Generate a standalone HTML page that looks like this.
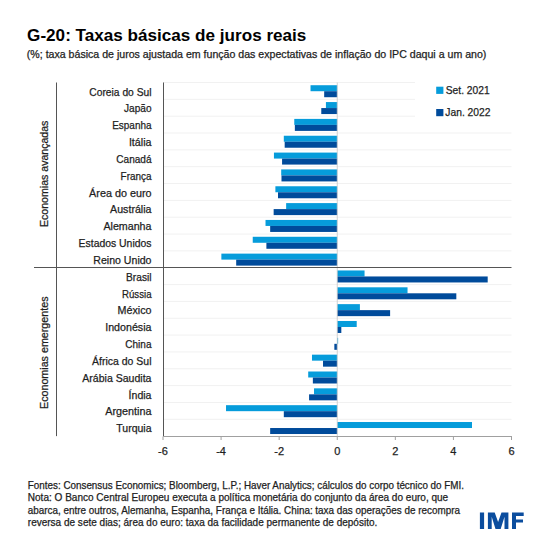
<!DOCTYPE html>
<html><head><meta charset="utf-8"><style>
html,body{margin:0;padding:0;width:550px;height:550px;overflow:hidden;background:#fff}
</style></head><body>
<svg width="550" height="550" viewBox="0 0 550 550" style="position:absolute;left:0;top:0">
<rect width="550" height="550" fill="#fff"/>
<line x1="163.0" y1="99.34" x2="511.5" y2="99.34" stroke="#f1f1f1" stroke-width="1"/>
<line x1="163.0" y1="116.18" x2="511.5" y2="116.18" stroke="#f1f1f1" stroke-width="1"/>
<line x1="163.0" y1="133.02" x2="511.5" y2="133.02" stroke="#f1f1f1" stroke-width="1"/>
<line x1="163.0" y1="149.86" x2="511.5" y2="149.86" stroke="#f1f1f1" stroke-width="1"/>
<line x1="163.0" y1="166.70" x2="511.5" y2="166.70" stroke="#f1f1f1" stroke-width="1"/>
<line x1="163.0" y1="183.54" x2="511.5" y2="183.54" stroke="#f1f1f1" stroke-width="1"/>
<line x1="163.0" y1="200.38" x2="511.5" y2="200.38" stroke="#f1f1f1" stroke-width="1"/>
<line x1="163.0" y1="217.22" x2="511.5" y2="217.22" stroke="#f1f1f1" stroke-width="1"/>
<line x1="163.0" y1="234.06" x2="511.5" y2="234.06" stroke="#f1f1f1" stroke-width="1"/>
<line x1="163.0" y1="250.90" x2="511.5" y2="250.90" stroke="#f1f1f1" stroke-width="1"/>
<line x1="163.0" y1="284.58" x2="511.5" y2="284.58" stroke="#f1f1f1" stroke-width="1"/>
<line x1="163.0" y1="301.42" x2="511.5" y2="301.42" stroke="#f1f1f1" stroke-width="1"/>
<line x1="163.0" y1="318.26" x2="511.5" y2="318.26" stroke="#f1f1f1" stroke-width="1"/>
<line x1="163.0" y1="335.10" x2="511.5" y2="335.10" stroke="#f1f1f1" stroke-width="1"/>
<line x1="163.0" y1="351.94" x2="511.5" y2="351.94" stroke="#f1f1f1" stroke-width="1"/>
<line x1="163.0" y1="368.78" x2="511.5" y2="368.78" stroke="#f1f1f1" stroke-width="1"/>
<line x1="163.0" y1="385.62" x2="511.5" y2="385.62" stroke="#f1f1f1" stroke-width="1"/>
<line x1="163.0" y1="402.46" x2="511.5" y2="402.46" stroke="#f1f1f1" stroke-width="1"/>
<line x1="163.0" y1="419.30" x2="511.5" y2="419.30" stroke="#f1f1f1" stroke-width="1"/>
<line x1="163.0" y1="82.50" x2="511.5" y2="82.50" stroke="#f1f1f1" stroke-width="1"/>
<rect x="310.53" y="85.22" width="26.72" height="6.0" fill="#069cdb"/>
<rect x="324.18" y="91.22" width="13.07" height="6.0" fill="#004b9b"/>
<rect x="325.92" y="102.06" width="11.33" height="6.0" fill="#069cdb"/>
<rect x="321.28" y="108.06" width="15.97" height="6.0" fill="#004b9b"/>
<rect x="294.27" y="118.90" width="42.98" height="6.0" fill="#069cdb"/>
<rect x="294.85" y="124.90" width="42.40" height="6.0" fill="#004b9b"/>
<rect x="283.81" y="135.74" width="53.44" height="6.0" fill="#069cdb"/>
<rect x="284.68" y="141.74" width="52.57" height="6.0" fill="#004b9b"/>
<rect x="273.94" y="152.58" width="63.31" height="6.0" fill="#069cdb"/>
<rect x="282.07" y="158.58" width="55.18" height="6.0" fill="#004b9b"/>
<rect x="281.20" y="169.42" width="56.05" height="6.0" fill="#069cdb"/>
<rect x="281.49" y="175.42" width="55.76" height="6.0" fill="#004b9b"/>
<rect x="275.39" y="186.26" width="61.86" height="6.0" fill="#069cdb"/>
<rect x="278.00" y="192.26" width="59.25" height="6.0" fill="#004b9b"/>
<rect x="286.14" y="203.10" width="51.11" height="6.0" fill="#069cdb"/>
<rect x="273.65" y="209.10" width="63.60" height="6.0" fill="#004b9b"/>
<rect x="265.52" y="219.94" width="71.73" height="6.0" fill="#069cdb"/>
<rect x="270.16" y="225.94" width="67.09" height="6.0" fill="#004b9b"/>
<rect x="252.74" y="236.78" width="84.51" height="6.0" fill="#069cdb"/>
<rect x="266.39" y="242.78" width="70.86" height="6.0" fill="#004b9b"/>
<rect x="221.37" y="253.62" width="115.88" height="6.0" fill="#069cdb"/>
<rect x="236.19" y="259.62" width="101.06" height="6.0" fill="#004b9b"/>
<rect x="337.25" y="270.46" width="27.30" height="6.0" fill="#069cdb"/>
<rect x="337.25" y="276.46" width="150.44" height="6.0" fill="#004b9b"/>
<rect x="337.25" y="287.30" width="70.28" height="6.0" fill="#069cdb"/>
<rect x="337.25" y="293.30" width="119.07" height="6.0" fill="#004b9b"/>
<rect x="337.25" y="304.14" width="22.65" height="6.0" fill="#069cdb"/>
<rect x="337.25" y="310.14" width="52.86" height="6.0" fill="#004b9b"/>
<rect x="337.25" y="320.98" width="19.46" height="6.0" fill="#069cdb"/>
<rect x="337.25" y="326.98" width="4.07" height="6.0" fill="#004b9b"/>
<rect x="337.25" y="337.82" width="0.87" height="6.0" fill="#069cdb"/>
<rect x="334.35" y="343.82" width="2.90" height="6.0" fill="#004b9b"/>
<rect x="311.98" y="354.66" width="25.27" height="6.0" fill="#069cdb"/>
<rect x="323.02" y="360.66" width="14.23" height="6.0" fill="#004b9b"/>
<rect x="308.21" y="371.50" width="29.04" height="6.0" fill="#069cdb"/>
<rect x="312.86" y="377.50" width="24.39" height="6.0" fill="#004b9b"/>
<rect x="314.02" y="388.34" width="23.23" height="6.0" fill="#069cdb"/>
<rect x="309.08" y="394.34" width="28.17" height="6.0" fill="#004b9b"/>
<rect x="226.02" y="405.18" width="111.23" height="6.0" fill="#069cdb"/>
<rect x="283.81" y="411.18" width="53.44" height="6.0" fill="#004b9b"/>
<rect x="337.25" y="422.02" width="134.75" height="6.0" fill="#069cdb"/>
<rect x="270.16" y="428.02" width="67.09" height="6.0" fill="#004b9b"/>
<line x1="337.25" y1="82.5" x2="337.25" y2="436.14" stroke="#c8c8c8" stroke-width="0.8"/>
<line x1="34" y1="267.5" x2="511.5" y2="267.5" stroke="#555" stroke-width="1"/>
<line x1="163.5" y1="82.5" x2="163.5" y2="436.14" stroke="#555" stroke-width="1"/>
<line x1="56.5" y1="82.5" x2="56.5" y2="436.14" stroke="#555" stroke-width="1"/>
<line x1="163.0" y1="436.5" x2="512.0" y2="436.5" stroke="#a0a0a0" stroke-width="1"/>
<line x1="163.00" y1="436.5" x2="163.00" y2="440" stroke="#a0a0a0" stroke-width="1"/>
<text x="163.00" y="455.2" font-family='"Liberation Sans", sans-serif' font-size="11" fill="#1e1e1e" stroke="#1e1e1e" stroke-width="0.25" text-anchor="middle">-6</text>
<line x1="221.08" y1="436.5" x2="221.08" y2="440" stroke="#a0a0a0" stroke-width="1"/>
<text x="221.08" y="455.2" font-family='"Liberation Sans", sans-serif' font-size="11" fill="#1e1e1e" stroke="#1e1e1e" stroke-width="0.25" text-anchor="middle">-4</text>
<line x1="279.17" y1="436.5" x2="279.17" y2="440" stroke="#a0a0a0" stroke-width="1"/>
<text x="279.17" y="455.2" font-family='"Liberation Sans", sans-serif' font-size="11" fill="#1e1e1e" stroke="#1e1e1e" stroke-width="0.25" text-anchor="middle">-2</text>
<line x1="337.25" y1="436.5" x2="337.25" y2="440" stroke="#a0a0a0" stroke-width="1"/>
<text x="337.25" y="455.2" font-family='"Liberation Sans", sans-serif' font-size="11" fill="#1e1e1e" stroke="#1e1e1e" stroke-width="0.25" text-anchor="middle">0</text>
<line x1="395.33" y1="436.5" x2="395.33" y2="440" stroke="#a0a0a0" stroke-width="1"/>
<text x="395.33" y="455.2" font-family='"Liberation Sans", sans-serif' font-size="11" fill="#1e1e1e" stroke="#1e1e1e" stroke-width="0.25" text-anchor="middle">2</text>
<line x1="453.42" y1="436.5" x2="453.42" y2="440" stroke="#a0a0a0" stroke-width="1"/>
<text x="453.42" y="455.2" font-family='"Liberation Sans", sans-serif' font-size="11" fill="#1e1e1e" stroke="#1e1e1e" stroke-width="0.25" text-anchor="middle">4</text>
<line x1="511.50" y1="436.5" x2="511.50" y2="440" stroke="#a0a0a0" stroke-width="1"/>
<text x="511.50" y="455.2" font-family='"Liberation Sans", sans-serif' font-size="11" fill="#1e1e1e" stroke="#1e1e1e" stroke-width="0.25" text-anchor="middle">6</text>
<text x="89.3" y="95.50" font-family='"Liberation Sans", sans-serif' font-size="10.9" fill="#1e1e1e" stroke="#1e1e1e" stroke-width="0.25" textLength="62.2" lengthAdjust="spacingAndGlyphs">Coreia do Sul</text>
<text x="124.0" y="112.34" font-family='"Liberation Sans", sans-serif' font-size="10.9" fill="#1e1e1e" stroke="#1e1e1e" stroke-width="0.25" textLength="27.5" lengthAdjust="spacingAndGlyphs">Japão</text>
<text x="112.2" y="129.18" font-family='"Liberation Sans", sans-serif' font-size="10.9" fill="#1e1e1e" stroke="#1e1e1e" stroke-width="0.25" textLength="39.3" lengthAdjust="spacingAndGlyphs">Espanha</text>
<text x="128.9" y="146.02" font-family='"Liberation Sans", sans-serif' font-size="10.9" fill="#1e1e1e" stroke="#1e1e1e" stroke-width="0.25" textLength="22.6" lengthAdjust="spacingAndGlyphs">Itália</text>
<text x="116.3" y="162.86" font-family='"Liberation Sans", sans-serif' font-size="10.9" fill="#1e1e1e" stroke="#1e1e1e" stroke-width="0.25" textLength="35.2" lengthAdjust="spacingAndGlyphs">Canadá</text>
<text x="120.6" y="179.70" font-family='"Liberation Sans", sans-serif' font-size="10.9" fill="#1e1e1e" stroke="#1e1e1e" stroke-width="0.25" textLength="30.9" lengthAdjust="spacingAndGlyphs">França</text>
<text x="89.1" y="196.54" font-family='"Liberation Sans", sans-serif' font-size="10.9" fill="#1e1e1e" stroke="#1e1e1e" stroke-width="0.25" textLength="62.4" lengthAdjust="spacingAndGlyphs">Área do euro</text>
<text x="110.1" y="213.38" font-family='"Liberation Sans", sans-serif' font-size="10.9" fill="#1e1e1e" stroke="#1e1e1e" stroke-width="0.25" textLength="41.4" lengthAdjust="spacingAndGlyphs">Austrália</text>
<text x="103.4" y="230.22" font-family='"Liberation Sans", sans-serif' font-size="10.9" fill="#1e1e1e" stroke="#1e1e1e" stroke-width="0.25" textLength="48.1" lengthAdjust="spacingAndGlyphs">Alemanha</text>
<text x="78.6" y="247.06" font-family='"Liberation Sans", sans-serif' font-size="10.9" fill="#1e1e1e" stroke="#1e1e1e" stroke-width="0.25" textLength="72.9" lengthAdjust="spacingAndGlyphs">Estados Unidos</text>
<text x="93.3" y="263.90" font-family='"Liberation Sans", sans-serif' font-size="10.9" fill="#1e1e1e" stroke="#1e1e1e" stroke-width="0.25" textLength="58.2" lengthAdjust="spacingAndGlyphs">Reino Unido</text>
<text x="126.1" y="280.74" font-family='"Liberation Sans", sans-serif' font-size="10.9" fill="#1e1e1e" stroke="#1e1e1e" stroke-width="0.25" textLength="25.4" lengthAdjust="spacingAndGlyphs">Brasil</text>
<text x="122.0" y="297.58" font-family='"Liberation Sans", sans-serif' font-size="10.9" fill="#1e1e1e" stroke="#1e1e1e" stroke-width="0.25" textLength="29.5" lengthAdjust="spacingAndGlyphs">Rússia</text>
<text x="117.5" y="314.42" font-family='"Liberation Sans", sans-serif' font-size="10.9" fill="#1e1e1e" stroke="#1e1e1e" stroke-width="0.25" textLength="34.0" lengthAdjust="spacingAndGlyphs">México</text>
<text x="105.2" y="331.26" font-family='"Liberation Sans", sans-serif' font-size="10.9" fill="#1e1e1e" stroke="#1e1e1e" stroke-width="0.25" textLength="46.3" lengthAdjust="spacingAndGlyphs">Indonésia</text>
<text x="125.3" y="348.10" font-family='"Liberation Sans", sans-serif' font-size="10.9" fill="#1e1e1e" stroke="#1e1e1e" stroke-width="0.25" textLength="26.2" lengthAdjust="spacingAndGlyphs">China</text>
<text x="92.1" y="364.94" font-family='"Liberation Sans", sans-serif' font-size="10.9" fill="#1e1e1e" stroke="#1e1e1e" stroke-width="0.25" textLength="59.4" lengthAdjust="spacingAndGlyphs">África do Sul</text>
<text x="82.3" y="381.78" font-family='"Liberation Sans", sans-serif' font-size="10.9" fill="#1e1e1e" stroke="#1e1e1e" stroke-width="0.25" textLength="69.2" lengthAdjust="spacingAndGlyphs">Arábia Saudita</text>
<text x="128.6" y="398.62" font-family='"Liberation Sans", sans-serif' font-size="10.9" fill="#1e1e1e" stroke="#1e1e1e" stroke-width="0.25" textLength="22.9" lengthAdjust="spacingAndGlyphs">Índia</text>
<text x="105.2" y="415.46" font-family='"Liberation Sans", sans-serif' font-size="10.9" fill="#1e1e1e" stroke="#1e1e1e" stroke-width="0.25" textLength="46.3" lengthAdjust="spacingAndGlyphs">Argentina</text>
<text x="116.3" y="432.30" font-family='"Liberation Sans", sans-serif' font-size="10.9" fill="#1e1e1e" stroke="#1e1e1e" stroke-width="0.25" textLength="35.2" lengthAdjust="spacingAndGlyphs">Turquia</text>
<text transform="translate(47.5,227) rotate(-90)" font-family='"Liberation Sans", sans-serif' font-size="10.9" fill="#1e1e1e" stroke="#1e1e1e" stroke-width="0.25" textLength="106.4" lengthAdjust="spacingAndGlyphs">Economias avançadas</text>
<text transform="translate(47.5,409) rotate(-90)" font-family='"Liberation Sans", sans-serif' font-size="10.9" fill="#1e1e1e" stroke="#1e1e1e" stroke-width="0.25" textLength="112.5" lengthAdjust="spacingAndGlyphs">Economias emergentes</text>
<rect x="415" y="79" width="98" height="52" fill="#fff"/>
<rect x="436.2" y="86.7" width="7.2" height="7.2" fill="#069cdb"/>
<rect x="436.2" y="109.0" width="7.2" height="7.2" fill="#004b9b"/>
<text x="445.8" y="94.0" font-family='"Liberation Sans", sans-serif' font-size="10.9" fill="#1e1e1e" stroke="#1e1e1e" stroke-width="0.25" textLength="43.8" lengthAdjust="spacingAndGlyphs">Set. 2021</text>
<text x="445.3" y="116.1" font-family='"Liberation Sans", sans-serif' font-size="10.9" fill="#1e1e1e" stroke="#1e1e1e" stroke-width="0.25" textLength="45.2" lengthAdjust="spacingAndGlyphs">Jan. 2022</text>
<text x="27.1" y="41.1" font-family='"Liberation Sans", sans-serif' font-size="17.4" font-weight="bold" fill="#000" textLength="279.3" lengthAdjust="spacingAndGlyphs">G-20: Taxas básicas de juros reais</text>
<text x="26.8" y="57.6" font-family='"Liberation Sans", sans-serif' font-size="10.1" fill="#1e1e1e" stroke="#1e1e1e" stroke-width="0.25" textLength="459.6" lengthAdjust="spacingAndGlyphs">(%; taxa básica de juros ajustada em função das expectativas de inflação do IPC daqui a um ano)</text>
<text x="27.8" y="489.0" font-family='"Liberation Sans", sans-serif' font-size="10.2" fill="#1e1e1e" stroke="#1e1e1e" stroke-width="0.25" textLength="436.2" lengthAdjust="spacingAndGlyphs">Fontes: Consensus Economics; Bloomberg, L.P.; Haver Analytics; cálculos do corpo técnico do FMI.</text>
<text x="27.8" y="501.2" font-family='"Liberation Sans", sans-serif' font-size="10.2" fill="#1e1e1e" stroke="#1e1e1e" stroke-width="0.25" textLength="420.4" lengthAdjust="spacingAndGlyphs">Nota: O Banco Central Europeu executa a política monetária do conjunto da área do euro, que</text>
<text x="27.8" y="513.7" font-family='"Liberation Sans", sans-serif' font-size="10.2" fill="#1e1e1e" stroke="#1e1e1e" stroke-width="0.25" textLength="432.2" lengthAdjust="spacingAndGlyphs">abarca, entre outros, Alemanha, Espanha, França e Itália. China: taxa das operações de recompra</text>
<text x="27.8" y="526.0" font-family='"Liberation Sans", sans-serif' font-size="10.2" fill="#1e1e1e" stroke="#1e1e1e" stroke-width="0.25" textLength="349.5" lengthAdjust="spacingAndGlyphs">reversa de sete dias; área do euro: taxa da facilidade permanente de depósito.</text>
<rect x="479.9" y="512.5" width="4.2" height="16.5" fill="#0b4d9e"/>
<path d="M487.9,512.5 L494.7,512.5 L498.1,522 L501.5,512.5 L508.4,512.5 L508.4,529 L504.5,529 L504.5,516.8 L500.7,529 L495.5,529 L491.7,516.8 L491.7,529 L487.9,529 Z" fill="#0b4d9e"/>
<path d="M512,512.5 L523.7,512.5 L523.7,515.9 L516,515.9 L516,519.4 L523,519.4 L523,522.6 L516,522.6 L516,529 L512,529 Z" fill="#0b4d9e"/>
</svg>
</body></html>
